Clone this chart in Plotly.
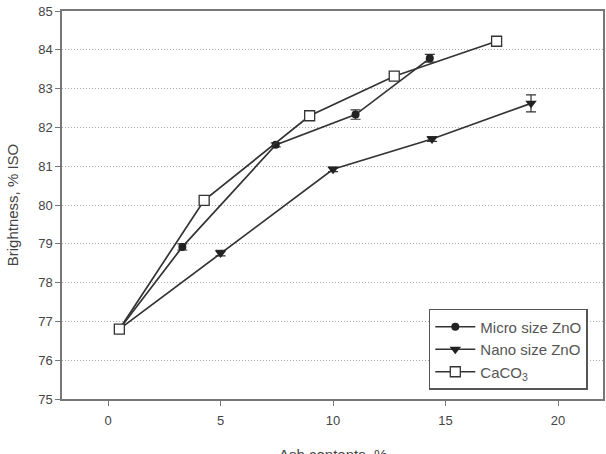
import plotly.graph_objects as go

micro_x = [0.5, 3.3, 7.45, 11.0, 14.3]
micro_y = [76.8, 78.92, 81.55, 82.33, 83.78]
micro_err = [0.05, 0.08, 0.05, 0.12, 0.1]

nano_x = [0.5, 5.0, 10.0, 14.4, 18.8]
nano_y = [76.8, 78.76, 80.92, 81.7, 82.62]
nano_err = [0.05, 0.07, 0.06, 0.06, 0.22]

caco3_x = [0.5, 4.27, 8.96, 12.72, 17.27]
caco3_y = [76.8, 80.12, 82.3, 83.32, 84.22]

x_title = "Ash contents, %"
y_title = "Brightness, % ISO"

line_col = "#333333"
font_fam = "Arial, Liberation Sans, sans-serif"

fig = go.Figure()
fig.add_trace(go.Scatter(
    x=micro_x, y=micro_y, name="Micro size ZnO", mode="lines+markers",
    line=dict(color=line_col, width=1.7),
    marker=dict(symbol="circle", size=8, color="#222222"),
    error_y=dict(type="data", array=micro_err, color=line_col, thickness=1.2, width=5),
))
fig.add_trace(go.Scatter(
    x=nano_x, y=nano_y, name="Nano size ZnO", mode="lines+markers",
    line=dict(color=line_col, width=1.7),
    marker=dict(symbol="triangle-down", size=10, color="#222222"),
    error_y=dict(type="data", array=nano_err, color=line_col, thickness=1.2, width=5),
))
fig.add_trace(go.Scatter(
    x=caco3_x, y=caco3_y, name="CaCO<sub>3</sub>", mode="lines+markers",
    line=dict(color=line_col, width=1.7),
    marker=dict(symbol="square", size=10, color="white",
                line=dict(color=line_col, width=1.3)),
))

fig.update_layout(
    width=606, height=454,
    margin=dict(l=62, r=3, t=11, b=55),
    paper_bgcolor="white", plot_bgcolor="white",
    font=dict(family=font_fam, size=13, color="#555555"),
    showlegend=True,
    legend=dict(
        x=0.678, y=0.232, xanchor="left", yanchor="top",
        bordercolor="#555555", borderwidth=1.5, bgcolor="white",
        font=dict(size=15, color="#555555"),
        tracegroupgap=0, itemwidth=40,
    ),
    xaxis=dict(
        range=[-2.05, 22.0], tickvals=[0, 5, 10, 15, 20],
        showgrid=False, zeroline=False, automargin=False,
        showline=True, linecolor="#777777", linewidth=1.5, mirror=True,
        ticks="outside", ticklen=5, tickcolor="#777777",
        ticklabelstandoff=4,
        tickfont=dict(size=13, color="#444444"),
    ),
    yaxis=dict(
        range=[75, 85], dtick=1,
        showgrid=True, gridcolor="#aaaaaa", griddash="1px,2px", gridwidth=1,
        zeroline=False, automargin=False,
        showline=True, linecolor="#777777", linewidth=1.5, mirror=True,
        ticks="outside", ticklen=5, tickcolor="#777777",
        tickfont=dict(size=13, color="#444444"),
        title=dict(text=y_title, standoff=16,
                   font=dict(size=15, color="#444444")),
    ),
    annotations=[dict(
        text=x_title, xref="paper", yref="paper", x=0.5, y=-0.115,
        xanchor="center", yanchor="top", showarrow=False,
        font=dict(size=15, color="#444444"),
    )],
)

fig.write_html("out.html")
